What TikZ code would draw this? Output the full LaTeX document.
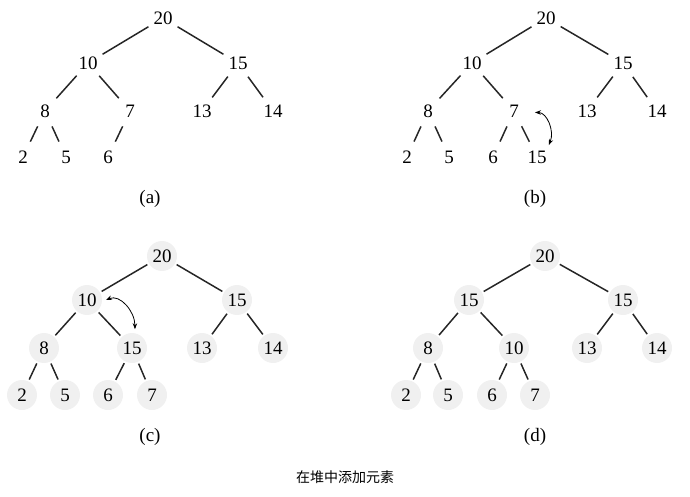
\documentclass[tikz,border=0pt]{standalone}
\usepackage{fontspec}
\setmainfont{Liberation Serif}
\newfontfamily\cjk{Noto Sans CJK SC}
\usetikzlibrary{arrows.meta}
\begin{document}
\begin{tikzpicture}[x=0.5pt,y=-0.5pt,
  hn/.style={circle,minimum size=15pt,inner sep=0pt,outer sep=1pt,font=\fontsize{9.5}{11}\selectfont},
  hg/.style={hn,fill=black!6},
  edge/.style={line width=0.75pt,draw=black!85},
  swap/.style={line width=0.4pt,{Stealth[length=3pt,width=2.2pt]}-{Stealth[length=3pt,width=2.2pt]}},
  lab/.style={font=\fontsize{9.5}{11}\selectfont}]
\useasboundingbox (0,0) rectangle (690,497);
% ---------- (a)
\node[hn] (a20) at (163,18) {20};
\node[hn] (a10) at (88,63) {10};
\node[hn] (a15) at (238,63) {15};
\node[hn] (a8) at (45,111) {8};
\node[hn] (a7) at (130,111) {7};
\node[hn] (a13) at (202,111) {13};
\node[hn] (a14) at (273,111) {14};
\node[hn] (a2) at (23,157) {2};
\node[hn] (a5) at (66,157) {5};
\node[hn] (a6) at (108,157) {6};
\draw[edge] (a20)--(a10) (a20)--(a15) (a10)--(a8) (a10)--(a7) (a15)--(a13) (a15)--(a14)
  (a8)--(a2) (a8)--(a5) (a7)--(a6);
\node[lab] (la) at (150,199) {(a)};
% ---------- (b)
\node[hn] (b20) at (546,18) {20};
\node[hn] (b10) at (472,63) {10};
\node[hn] (b15) at (623,63) {15};
\node[hn] (b8) at (428,111) {8};
\node[hn] (b7) at (514,111) {7};
\node[hn] (b13) at (587,111) {13};
\node[hn] (b14) at (657,111) {14};
\node[hn] (b2) at (407,157) {2};
\node[hn] (b5) at (449,157) {5};
\node[hn] (b6) at (493,157) {6};
\node[hn] (b15b) at (537,157) {15};
\draw[edge] (b20)--(b10) (b20)--(b15) (b10)--(b8) (b10)--(b7) (b15)--(b13) (b15)--(b14)
  (b8)--(b2) (b8)--(b5) (b7)--(b6) (b7)--(b15b);
\draw[swap] ([xshift=2pt]b7.-5) .. controls +(12,0) and +(6,-14) .. ([shift={(1pt,-1pt)}]b15b.55);
\node[lab] (lb) at (535,199) {(b)};
% ---------- (c)
\node[hg] (c20) at (162,256) {20};
\node[hg] (c10) at (87,300) {10};
\node[hg] (c15) at (237,300) {15};
\node[hg] (c8) at (44,348) {8};
\node[hg] (c15b) at (132,348) {15};
\node[hg] (c13) at (202,348) {13};
\node[hg] (c14) at (273,348) {14};
\node[hg] (c2) at (22,395) {2};
\node[hg] (c5) at (65,395) {5};
\node[hg] (c6) at (108,395) {6};
\node[hg] (c7) at (152,395) {7};
\draw[edge] (c20)--(c10) (c20)--(c15) (c10)--(c8) (c10)--(c15b) (c15)--(c13) (c15)--(c14)
  (c8)--(c2) (c8)--(c5) (c15b)--(c6) (c15b)--(c7);
\draw[swap] ([xshift=1pt]c10.0) .. controls +(14,-6) and +(0,-18) .. ([yshift=1pt]c15b.80);
\node[lab] (lc) at (150,437) {(c)};
% ---------- (d)
\node[hg] (d20) at (545,256) {20};
\node[hg] (d15) at (469,300) {15};
\node[hg] (d15r) at (623,300) {15};
\node[hg] (d8) at (428,348) {8};
\node[hg] (d10) at (514,348) {10};
\node[hg] (d13) at (587,348) {13};
\node[hg] (d14) at (657,348) {14};
\node[hg] (d2) at (406,395) {2};
\node[hg] (d5) at (448,395) {5};
\node[hg] (d6) at (492,395) {6};
\node[hg] (d7) at (535,395) {7};
\draw[edge] (d20)--(d15) (d20)--(d15r) (d15)--(d8) (d15)--(d10) (d15r)--(d13) (d15r)--(d14)
  (d8)--(d2) (d8)--(d5) (d10)--(d6) (d10)--(d7);
\node[lab] (ld) at (535,437) {(d)};
% ---------- caption
\node[font=\cjk\fontsize{7}{8}\selectfont] (cap) at (345,477) {在堆中添加元素};
\end{tikzpicture}
\end{document}
